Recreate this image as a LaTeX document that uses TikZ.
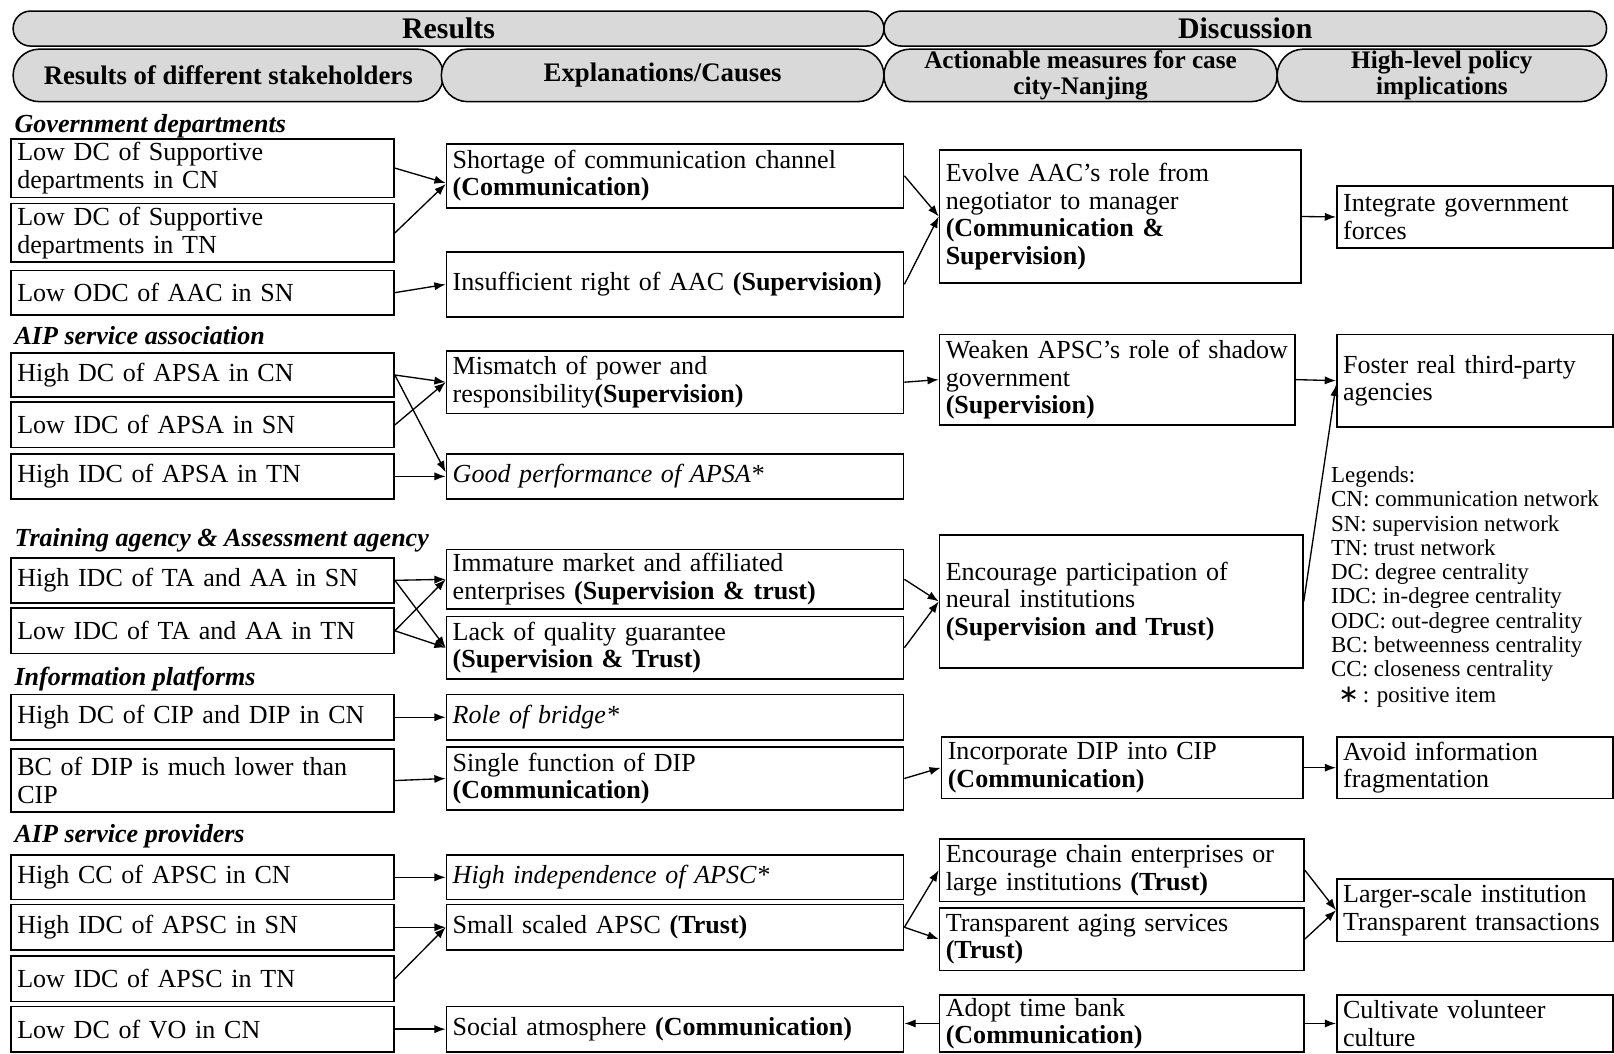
\documentclass[tikz,border=0pt]{standalone}
\usepackage{fontspec}
\setmainfont{Liberation Serif}
\newfontfamily\djsans{DejaVu Sans}
\usetikzlibrary{arrows.meta}
\definecolor{pillgray}{RGB}{217,217,217}
\tikzset{
  box/.style={draw, line width=1.6pt, fill=white, anchor=north west, inner xsep=6pt, inner ysep=0pt,
    align=left, font=\fontsize{25.3}{26.7}\selectfont},
  pill/.style={draw, line width=1.5pt, fill=pillgray, rectangle, anchor=north west,
    inner sep=0pt, align=center},
  cat/.style={anchor=base west, inner sep=0pt, font=\fontsize{25.3}{26.7}\selectfont\bfseries\itshape},
  arr/.style={-{Latex[length=11pt,width=8pt]}, line width=1.3pt},
  legend/.style={anchor=north west, inner sep=0pt, align=left, font=\fontsize{22.3}{23.6}\selectfont}
}
\newcommand{\bx}[6]{%
  \pgfmathsetmacro\bxw{#4-#2}\pgfmathsetmacro\bxh{#5-#3}\pgfmathsetmacro\bxt{#4-#2-12}%
  \node[box, minimum width=\bxw pt, minimum height=\bxh pt, text width=\bxt pt] (#1) at (#2,#3) {#6};}
\newcommand{\pl}[7]{%
  \pgfmathsetmacro\bxw{#4-#2}\pgfmathsetmacro\bxh{#5-#3}\pgfmathsetmacro\bxr{(#5-#3)/2-0.05}%
  \node[pill, minimum width=\bxw pt, minimum height=\bxh pt, rounded corners=\bxr pt, font=#7] (#1) at (#2,#3) {#6};}
\begin{document}
\begin{tikzpicture}[x=1pt,y=-1pt]
\useasboundingbox (0,0) rectangle (1568,1023);
% header
\pl{hres}{12}{10}{858}{44}{Results}{\fontsize{29}{30}\selectfont\bfseries}
\pl{hdis}{858}{10}{1560}{44}{Discussion}{\fontsize{29}{30}\selectfont\bfseries}
\pl{hc1}{12}{47}{430}{98}{Results of different stakeholders}{\fontsize{26}{26}\selectfont\bfseries}
\pl{hc2}{428}{47}{858}{98}{Explanations/Causes}{\fontsize{26}{26}\selectfont\bfseries}
\pl{hc3}{858}{47}{1240}{98}{Actionable measures for case\\city-Nanjing}{\fontsize{24.5}{25}\selectfont\bfseries}
\pl{hc4}{1240}{47}{1560}{98}{High-level policy\\implications}{\fontsize{24.5}{25}\selectfont\bfseries}
% category labels
\node[cat] (c1) at (14,129) {Government departments};
\node[cat] (c2) at (14,335) {AIP service association};
\node[cat] (c3) at (14,531) {Training agency \& Assessment agency};
\node[cat] (c4) at (14,666) {Information platforms};
\node[cat] (c5) at (14,818) {AIP service providers};
% column 1
\bx{g1}{10}{134}{382}{191}{Low DC of Supportive\\departments in CN}
\bx{g2}{10}{197}{382}{254}{Low DC of Supportive\\departments in TN}
\bx{g3}{10}{262}{382}{305}{Low ODC of AAC in SN}
\bx{a1}{10}{342}{382}{385}{High DC of APSA in CN}
\bx{a2}{10}{390}{382}{434}{Low IDC of APSA in SN}
\bx{a3}{10}{440}{382}{484}{High IDC of APSA in TN}
\bx{t1}{10}{541}{382}{585}{High IDC of TA and AA in SN}
\bx{t2}{10}{590}{382}{634}{Low IDC of TA and AA in TN}
\bx{i1}{10}{674}{382}{718}{High DC of CIP and DIP in CN}
\bx{i2}{10}{727}{382}{788}{BC of DIP is much lower than\\CIP}
\bx{p1}{10}{830}{382}{873}{High CC of APSC in CN}
\bx{p2}{10}{878}{382}{922}{High IDC of APSC in SN}
\bx{p3}{10}{928}{382}{972}{Low IDC of APSC in TN}
\bx{p4}{10}{977}{382}{1021}{Low DC of VO in CN}
% column 2
\bx{e1}{433}{139}{877}{201}{Shortage of communication channel\\\textbf{(Communication)}}
\bx{e2}{433}{244}{877}{307}{Insufficient right of AAC \textbf{(Supervision)}}
\bx{e3}{433}{340}{877}{401}{Mismatch of power and\\responsibility\textbf{(Supervision)}}
\bx{e4}{433}{440}{877}{484}{\textit{Good performance of APSA*}}
\bx{e5}{433}{533}{877}{591}{Immature market and affiliated\\enterprises \textbf{(Supervision \& trust)}}
\bx{e6}{433}{598}{877}{659}{Lack of quality guarantee\\\textbf{(Supervision \& Trust)}}
\bx{e7}{433}{674}{877}{718}{\textit{Role of bridge*}}
\bx{e8}{433}{725}{877}{786}{Single function of DIP\\\textbf{(Communication)}}
\bx{e9}{433}{830}{877}{873}{\textit{High independence of APSC*}}
\bx{e10}{433}{878}{877}{922}{Small scaled APSC \textbf{(Trust)}}
\bx{e11}{433}{977}{877}{1021}{Social atmosphere \textbf{(Communication)}}
% column 3
\bx{m1}{912}{145}{1263}{274}{Evolve AAC’s role from\\negotiator to manager\\\textbf{(Communication \&}\\\textbf{Supervision)}}
\bx{m2}{912}{324}{1257}{412}{Weaken APSC's role of shadow\\government\\\textbf{(Supervision)}}
\bx{m3}{912}{519}{1265}{648}{Encourage participation of\\neural institutions\\\textbf{(Supervision and Trust)}}
\bx{m4}{914}{715}{1265}{775}{Incorporate DIP into CIP\\\textbf{(Communication)}}
\bx{m5}{912}{814}{1266}{875}{Encourage chain enterprises or\\large institutions \textbf{(Trust)}}
\bx{m6}{912}{881}{1266}{942}{Transparent aging services\\\textbf{(Trust)}}
\bx{m7}{912}{966}{1266}{1021}{Adopt time bank\\\textbf{(Communication)}}
% column 4
\bx{r1}{1298}{180}{1566}{240}{Integrate government\\forces}
\bx{r2}{1298}{324}{1566}{414}{Foster real third-party\\agencies}
\bx{r3}{1298}{715}{1566}{775}{Avoid information\\fragmentation}
\bx{r4}{1298}{853}{1566}{914}{Larger-scale institution\\Transparent transactions}
\bx{r5}{1298}{966}{1566}{1021}{Cultivate volunteer\\culture}
% legend
\node[legend] (leg) at (1293,453) {Legends:\\CN: communication network\\SN: supervision network\\TN: trust network\\DC: degree centrality\\IDC: in-degree centrality\\ODC: out-degree centrality\\BC: betweenness centrality\\CC: closeness centrality\\[1pt]\hspace*{7pt}{\djsans\fontsize{24}{24}\selectfont ∗}\,: positive item};
% connectors
\draw[arr] (g1.east) -- ([yshift=-7pt]e1.west);
\draw[arr] (g2.east) -- ([yshift=-8pt]e1.west);
\draw[arr] (g3.east) -- (e2.west);
\draw[arr] (e1.east) -- (m1.west);
\draw[arr] (e2.east) -- (m1.west);
\draw[arr] (m1.east) -- (r1.west);
\draw[arr] (a1.east) -- (e3.west);
\draw[arr] (a1.east) -- ([yshift=4pt]e4.west);
\draw[arr] (a2.east) -- (e3.west);
\draw[arr] (a3.east) -- (e4.west);
\draw[arr] (e3.east) -- (m2.west);
\draw[arr] (m2.east) -- (r2.west);
\draw[arr] (m3.east) -- ([yshift=-4pt]r2.west);
\draw[arr] (t1.east) -- (e5.west);
\draw[arr] (t1.east) -- (e6.west);
\draw[arr] (t2.east) -- (e5.west);
\draw[arr] (t2.east) -- (e6.west);
\draw[arr] (e5.east) -- (m3.west);
\draw[arr] (e6.east) -- (m3.west);
\draw[arr] (i1.east) -- (e7.west);
\draw[arr] (i2.east) -- (e8.west);
\draw[arr] (e8.east) -- (m4.west);
\draw[arr] (m4.east) -- (r3.west);
\draw[arr] (p1.east) -- (e9.west);
\draw[arr] (p2.east) -- (e10.west);
\draw[arr] (p3.east) -- (e10.west);
\draw[arr] (e10.east) -- (m5.west);
\draw[arr] (e10.east) -- (m6.west);
\draw[arr] (m5.east) -- (r4.west);
\draw[arr] (m6.east) -- (r4.west);
\draw[arr] (p4.east) -- (e11.west);
\draw[arr] (m7.west) -- (m7.west -| e11.east);
\draw[arr] (m7.east) -- (r5.west);
\end{tikzpicture}
\end{document}
